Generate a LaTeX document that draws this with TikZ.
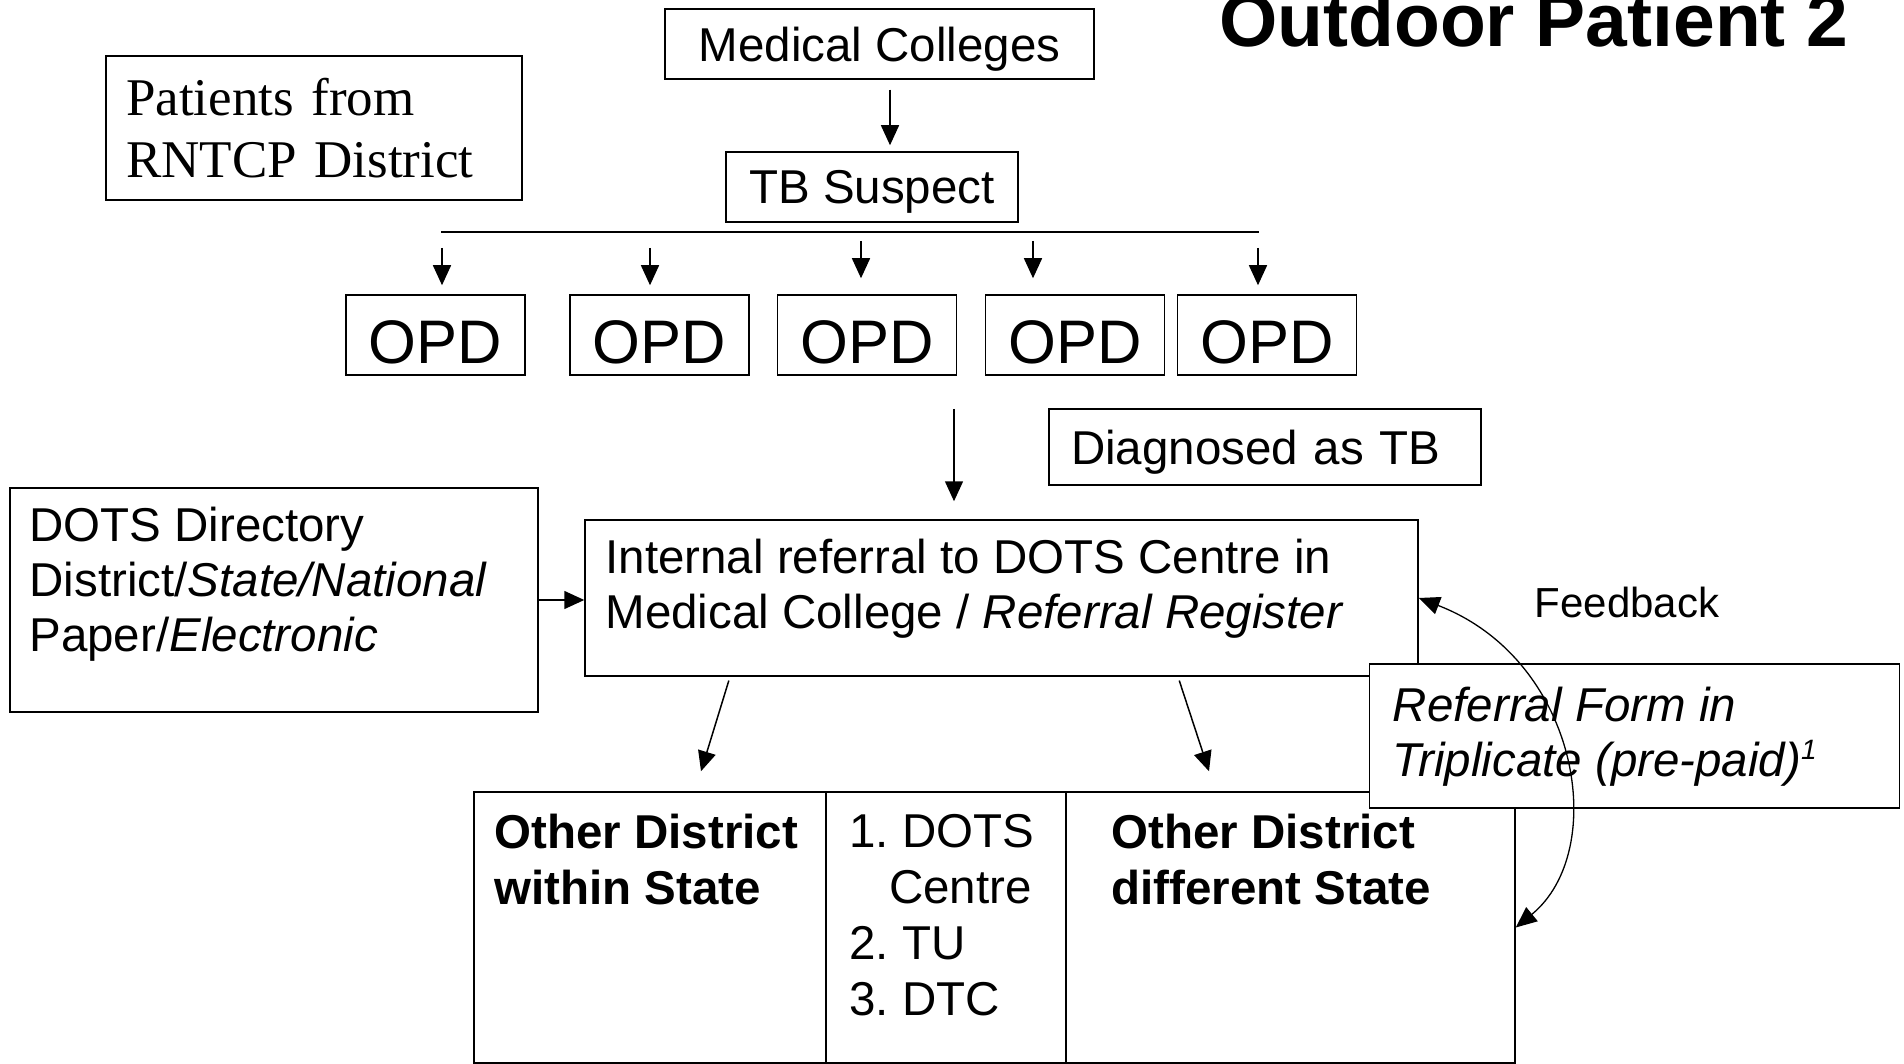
\documentclass[tikz,border=0pt]{standalone}
\usepackage{fontspec}
\setmainfont{Liberation Sans}
\newfontfamily\timesfont{Liberation Serif}
\usetikzlibrary{arrows.meta}
\frenchspacing

\newcommand\mainfs{\fontsize{47.5}{55}\selectfont}
\newcommand\serfs{\timesfont\fontsize{53}{62}\selectfont}
\newcommand\opdfs{\fontsize{61.5}{70}\selectfont}
\newcommand\titlefs{\bfseries\fontsize{75}{85}\selectfont}
\newcommand\fbfs{\fontsize{42}{50}\selectfont}
\newcommand\tabfs{\fontsize{47.5}{56}\selectfont}
\newcommand\supone{\raisebox{17pt}{\fontsize{28}{30}\selectfont 1}}

\tikzset{
    box/.style={draw, line width=1.5pt, rectangle, inner sep=0pt},
    txt/.style={anchor=north west, align=left, inner sep=0pt, font=\mainfs},
    arr/.style={line width=1.5pt, -{Triangle[length=20pt,width=18pt]}},
    dblarr/.style={line width=1.3pt, {Triangle[length=21pt,width=18pt]}-{Triangle[length=21pt,width=18pt]}}
}

\begin{document}
\begin{tikzpicture}[x=1pt, y=-1pt]
            \fill[white] (0,0) rectangle (1904,1064);
            \useasboundingbox (0,0) rectangle (1904,1064);
            % top part
            \node[anchor=base west, inner sep=0pt, font=\titlefs] (title) at (1219,47) {Outdoor Patient 2};
            \node[box, minimum width=429pt, minimum height=70pt, text depth=0pt, font=\mainfs] (colleges) at (879.5,44) {Medical Colleges};
            \node[box, minimum width=416pt, minimum height=144pt, text width=376pt, inner xsep=20pt, align=left, font=\serfs] (patients) at (314,128) {Patients from\\RNTCP District};
            \node[box, minimum width=292pt, minimum height=70pt, text depth=0pt, font=\mainfs] (suspect) at (872,187) {TB Suspect};
            \draw[arr, shorten <=10pt, shorten >=6pt] ([xshift=10.5pt]colleges.south) -- ([xshift=10.5pt]colleges.south |- suspect.north);
            \coordinate (busL) at (441,232);
            \coordinate (busR) at (1259,232);
            \draw[line width=1.5pt] (busL) -- (busR); % branch line
            \foreach \n/\x in {1/435.5, 2/659.5, 3/867, 4/1075, 5/1267} {
                    \node[box, minimum width=179pt, minimum height=80pt, text height=58pt, font=\opdfs] (opd\n) at (\x,335) {OPD};
                }
            \foreach \n/\x/\t/\s in {1/442/248/9pt, 2/650/248/9pt, 3/861/241/16pt, 4/1033/241/16pt, 5/1258/248/9pt} {
                    \draw[arr, shorten >=\s] (\x,\t) -- (\x,\t |- opd\n.north); % down to OPD
                }
            \node[box, minimum width=432pt, minimum height=76pt, text width=388pt, inner xsep=22pt, text depth=0pt, align=left, font=\mainfs] (diag) at (1265,447) {Diagnosed as TB};
            % referral part
            \node[box, minimum width=528pt, minimum height=224pt] (dots) at (274,600) {};
            \node[txt] (dotstxt) at ([shift={(20,20)}]dots.north west) {DOTS Directory\\District/\textit{State/National}\\Paper/\textit{Electronic}};
            \node[box, minimum width=833pt, minimum height=156pt] (refer) at (1001.5,598) {};
            \node[txt] (refertxt) at ([shift={(21,20)}]refer.north west) {Internal referral to DOTS Centre in\\Medical College / \textit{Referral Register}};
            \coordinate (opdout) at (954,409);
            \draw[arr, shorten >=18pt] (opdout) -- (opdout |- refer.north);
            \draw[arr] (dots.east) -- (dots.east -| refer.west);
            % table at the bottom
            \node[box, minimum width=352pt, minimum height=271pt] (cellA) at (650,927.5) {};
            \node[box, minimum width=240pt, minimum height=271pt] (cellB) at (946,927.5) {};
            \node[box, minimum width=449pt, minimum height=271pt] (cellC) at (1290.5,927.5) {};
            \node[txt, font=\tabfs\bfseries] (cellAtxt) at ([shift={(21,23)}]cellA.north west) {Other District\\within State};
            \node[txt, font=\tabfs] (cellBtxt) at ([shift={(24,23)}]cellB.north west) {1. DOTS\\\hphantom{1.}Centre\\2. TU\\3. DTC};
            \node[txt, font=\tabfs\bfseries] (cellCtxt) at ([shift={(46,23)}]cellC.north west) {Other District\\different State};
            \draw[arr, shorten <=4pt] ([xshift=-271.5pt]refer.south) -- ([xshift=51pt, yshift=20pt]cellA.north);
            \draw[arr, shorten <=4pt] ([xshift=176.5pt]refer.south) -- ([xshift=-81.5pt, yshift=20pt]cellC.north);
            % referral form and feedback
            \node[box, fill=white, minimum width=530pt, minimum height=144pt] (form) at (1634.5,736) {};
            \node[txt, font=\mainfs\itshape] (formtxt) at ([shift={(24,24)}]form.north west) {Referral Form in\\Triplicate (pre-paid)\supone};
            \node[inner sep=0pt, font=\fbfs] (feedback) at (1627,602.5) {Feedback};
            \draw[dblarr] (refer.east) .. controls +(161,62) and +(94,-77) .. (cellC.east);
        \end{tikzpicture}
\end{document}
